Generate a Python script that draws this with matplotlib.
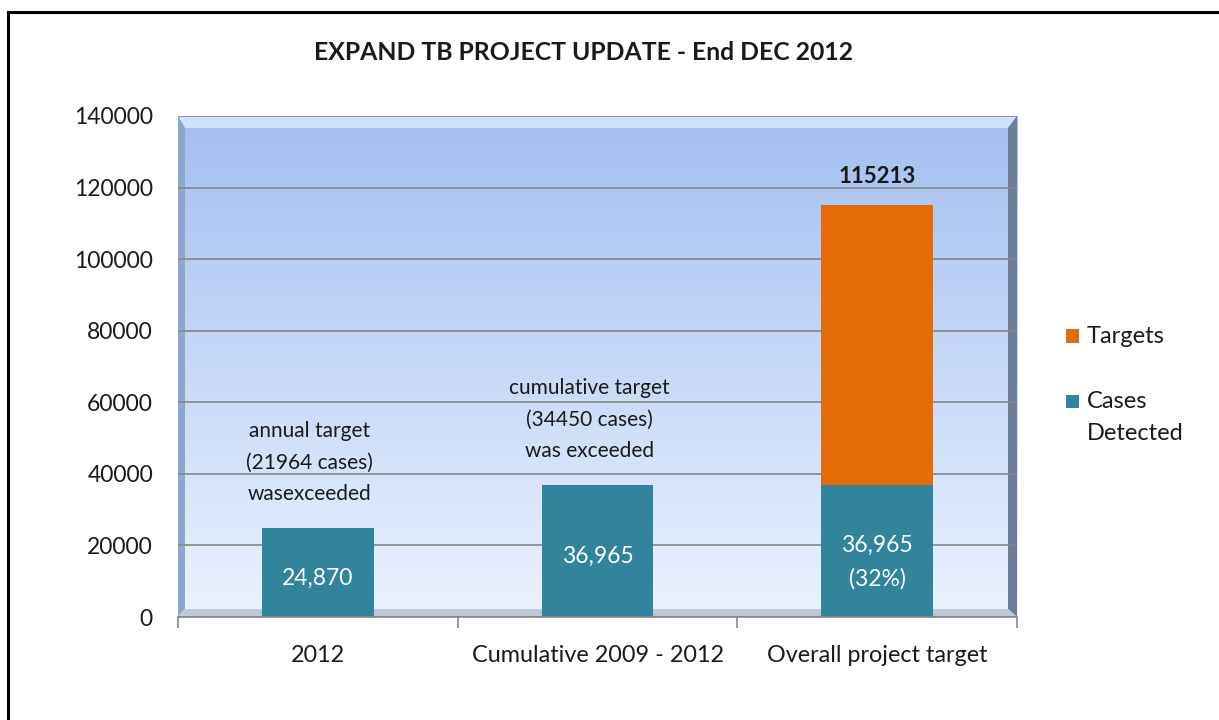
import numpy as np
import matplotlib
matplotlib.use("Agg")
from matplotlib import pyplot as plt
from matplotlib.patches import Polygon, Rectangle

plt.rcParams['font.family'] = ['Lato', 'DejaVu Sans']

# data
categories = ["2012", "Cumulative 2009 - 2012", "Overall project target"]
cases_detected = [24870, 36965, 36965]
overall_target = 115213
targets = [0, 0, overall_target - cases_detected[2]]
case_labels = ["24,870", "36,965", "36,965\n(32%)"]
notes = ["annual target\n(21964 cases)\nwasexceeded",
         "cumulative target\n(34450 cases)\nwas exceeded",
         ""]
y_ticks = [0, 20000, 40000, 60000, 80000, 100000, 120000, 140000]

teal = "#31849B"
orange = "#E36C09"

fig = plt.figure(figsize=(12.19, 7.2), dpi=100)
W, H = 1219.0, 720.0
ax = fig.add_axes([178 / W, 1 - 617 / H, (1017 - 178) / W, (617 - 116) / H])

# gradient background of the plot area
grad = np.linspace(0, 1, 256)[:, None]
top_c = np.array([0.64, 0.75, 0.94])
bot_c = np.array([0.92, 0.95, 0.995])
img = top_c[None, None, :] * (1 - grad[:, :, None]) + bot_c[None, None, :] * grad[:, :, None]
ax.imshow(img, extent=[0, 1, 0, 1], transform=ax.transAxes, aspect='auto', zorder=0)

# bevel edges
pw, ph = 839.0, 501.0
tx, ty = 12 / pw, 12 / ph
lx, rx, by = 7 / pw, 9 / pw, 8 / ph
bevels = [
    ([(0, 1), (1, 1), (1 - rx, 1 - ty), (lx, 1 - ty)], "#CFE1FB"),
    ([(0, 0), (0, 1), (lx, 1 - ty), (lx, by)], "#8EA6CF"),
    ([(1, 0), (1, 1), (1 - rx, 1 - ty), (1 - rx, by)], "#6F7E98"),
    ([(0, 0), (1, 0), (1 - rx, by), (lx, by)], "#BFC8D6"),
]
for pts, col in bevels:
    ax.add_patch(Polygon(pts, closed=True, transform=ax.transAxes,
                         facecolor=col, edgecolor='none', zorder=1))

x = np.arange(len(categories))
ax.bar(x, cases_detected, width=0.4, color=teal, zorder=3)
ax.bar(x, targets, width=0.4, bottom=cases_detected, color=orange, zorder=3)

ax.set_xlim(-0.5, 2.5)
ax.set_ylim(0, 140000)
ax.set_yticks(y_ticks)
ax.set_yticklabels([str(v) for v in y_ticks], fontsize=16.5, color="#1a1a1a")
ax.yaxis.grid(True, color="#868686", lw=1.2, zorder=2)
ax.set_axisbelow(False)
ax.tick_params(axis='y', length=0, pad=18)

ax.set_xticks(x)
ax.set_xticklabels(categories, fontsize=16.8, color="#1a1a1a")
ax.set_xticks([-0.5, 0.5, 1.5, 2.5], minor=True)
ax.tick_params(axis='x', which='major', length=0, pad=20)
ax.tick_params(axis='x', which='minor', length=8, color="#868686", width=1.2)

for s in ['top', 'right', 'left']:
    ax.spines[s].set_visible(False)
ax.spines['bottom'].set_color("#868686")
ax.spines['bottom'].set_linewidth(1.2)
ax.spines['bottom'].set_zorder(4)

# labels inside bars (the two-line one sits a bit lower, as in Excel)
for xi, v, lab in zip(x, cases_detected, case_labels):
    dy = -8 if "\n" in lab else -4
    ax.annotate(lab, (xi, v / 2), xytext=(0, dy), textcoords='offset points',
                ha='center', va='center', color='white',
                fontsize=16.5, linespacing=1.7, zorder=5)

# notes above bars
for xi, v, note in zip(x, cases_detected, notes):
    if note:
        ax.annotate(note, (xi - 0.03, v), xytext=(0, 17), textcoords='offset points',
                    ha='center', va='bottom', fontsize=15, color="#1a1a1a",
                    linespacing=1.72)

ax.annotate(str(overall_target), (x[2], overall_target), xytext=(0, 13),
            textcoords='offset points', ha='center', va='bottom',
            fontsize=16, fontweight='bold', color="#1a1a1a")

fig.text(583 / W, 1 - 53 / H, "EXPAND TB PROJECT UPDATE - End DEC 2012",
         ha='center', va='center', fontsize=17.8, fontweight='bold', color="#1a1a1a")

# legend
sq = 13
for (yc, lab, col) in [(336, "Targets", orange), (401, "Cases\nDetected", teal)]:
    fig.add_artist(Rectangle((1066 / W, 1 - (yc + sq / 2) / H), sq / W, sq / H,
                             transform=fig.transFigure, facecolor=col, edgecolor='none'))
    fig.text(1087 / W, 1 - (yc - 10) / H, lab, ha='left', va='top', fontsize=17,
             color="#1a1a1a", linespacing=1.62)

# outer frame
fig.add_artist(Rectangle((8 / W, -0.1), 1.2, 1 - 12 / H + 0.1, transform=fig.transFigure,
                         fill=False, edgecolor='black', lw=2.2))

fig.savefig("out.png", dpi=100)
